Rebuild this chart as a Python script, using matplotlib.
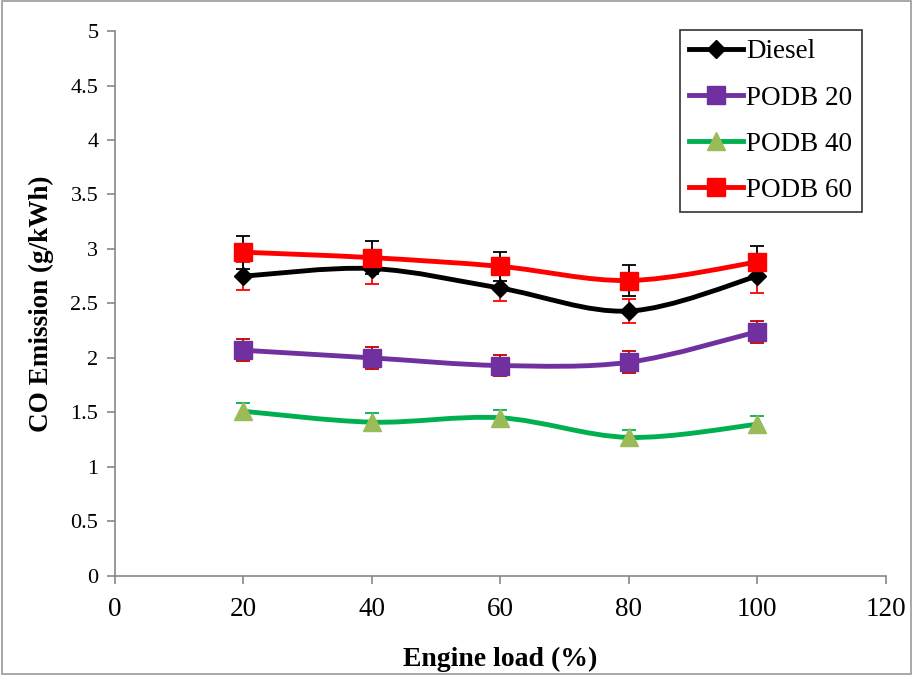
import numpy as np
import matplotlib.pyplot as plt
from matplotlib.path import Path
from matplotlib.patches import PathPatch, Rectangle
from matplotlib.lines import Line2D

plt.rcParams['font.family'] = ['Liberation Serif', 'DejaVu Serif']

# charge moteur (%)
charge = [20, 40, 60, 80, 100]

# émissions de CO (g/kWh) et écarts
diesel = [2.75, 2.82, 2.64, 2.43, 2.75]
diesel_err = [0.13, 0.14, 0.12, 0.11, 0.15]
podb20 = [2.07, 2.00, 1.93, 1.96, 2.24]
podb20_err = [0.10, 0.10, 0.10, 0.10, 0.10]
podb40 = [1.51, 1.41, 1.45, 1.27, 1.39]
podb40_err = [0.08, 0.08, 0.07, 0.07, 0.08]
podb60 = [2.97, 2.92, 2.84, 2.71, 2.88]
podb60_err = [0.15, 0.15, 0.13, 0.14, 0.15]

noms = ["Diesel", "PODB 20", "PODB 40", "PODB 60"]


# Courbe lissée façon tableur : segments de Bézier cubiques
def chemin_lisse(x, y, t=1 / 6):
    p = np.column_stack([x, y]).astype(float)
    n = len(p)
    verts = [p[0]]
    codes = [Path.MOVETO]
    for i in range(n - 1):
        p0 = p[i - 1] if i > 0 else p[i]
        p3 = p[i + 2] if i + 2 < n else p[i + 1]
        c1 = p[i] + (p[i + 1] - p0) * t
        c2 = p[i + 1] - (p3 - p[i]) * t
        verts += [c1, c2, p[i + 1]]
        codes += [Path.CURVE4] * 3
    return Path(verts, codes)


fig = plt.figure(figsize=(9.13, 6.75), dpi=100)
ax = fig.add_axes([0.126, 0.147, 0.844, 0.807])

series = [
    (diesel, diesel_err, "black", "black", "D", 9, "#FF0000"),
    (podb20, podb20_err, "#7030A0", "#7030A0", "s", 13, "#C00000"),
    (podb40, podb40_err, "#00B050", "#9BBB59", "^", 13, "#00B050"),
    (podb60, podb60_err, "#FF0000", "#FF0000", "s", 13, "black"),
]

poignees = []
for k, (y, err, c_ligne, c_mark, m, ms, c_err) in enumerate(series):
    z = 3 + k
    ax.add_patch(PathPatch(chemin_lisse(charge, y), facecolor="none",
                           edgecolor=c_ligne, lw=3.5, zorder=z))
    ax.errorbar(charge, y, yerr=err, fmt="none", ecolor=c_err,
                elinewidth=1.3, capsize=5, capthick=1.3, zorder=z)
    ax.plot(charge, y, ls="none", marker=m, ms=ms, color=c_mark,
            markeredgecolor=c_mark, zorder=z + 0.5)
    poignees.append(Line2D([], [], color=c_ligne, lw=3.5, marker=m, ms=ms,
                           markerfacecolor=c_mark, markeredgecolor=c_mark))

ax.set_xlim(0, 120)
ax.set_ylim(0, 5)
ax.set_xticks(np.arange(0, 121, 20))
ax.set_yticks(np.arange(0, 5.01, 0.5))
ax.set_yticklabels(["0", "0.5", "1", "1.5", "2", "2.5", "3", "3.5", "4", "4.5", "5"])
for s in ["top", "right"]:
    ax.spines[s].set_visible(False)
for s in ["left", "bottom"]:
    ax.spines[s].set_color("#888888")
    ax.spines[s].set_linewidth(1.2)
ax.tick_params(axis="both", direction="out", length=6, width=1.2, color="#888888")
ax.tick_params(axis="x", labelsize=19.5, pad=9)
ax.tick_params(axis="y", labelsize=16, pad=6)

ax.set_xlabel("Engine load (%)", fontsize=20, fontweight="bold", labelpad=18)
ax.set_ylabel("CO Emission (g/kWh)", fontsize=19.5, fontweight="bold", labelpad=12)

leg = ax.legend(poignees, noms, loc="upper right", bbox_to_anchor=(0.969, 1.002),
                fontsize=19.5, frameon=True, fancybox=False, edgecolor="black",
                handlelength=2.0, handletextpad=0.1, labelspacing=0.78,
                borderpad=0.35, borderaxespad=0.0)
leg.get_frame().set_linewidth(1.2)

fig.patches.append(Rectangle((0.002, 0.002), 0.996, 0.996, transform=fig.transFigure,
                             fill=False, edgecolor="#999999", lw=1.2))

fig.savefig("out.png", dpi=100)
